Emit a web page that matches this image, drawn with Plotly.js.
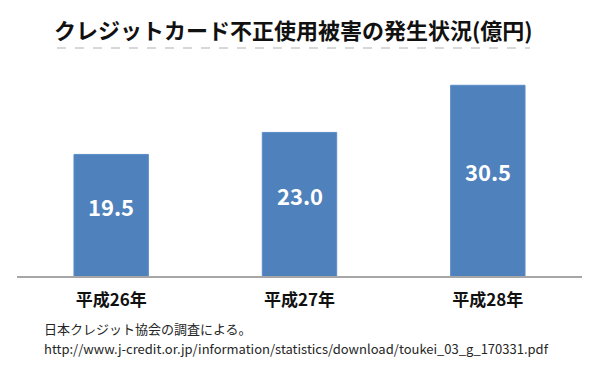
<!DOCTYPE html>
<html><head><meta charset="utf-8">
<script src="https://cdn.plot.ly/plotly-3.0.1.min.js"></script>
<style>body{margin:0;background:#fff}#c{width:600px;height:374px}</style>
</head><body><div id="c"></div>
<script>
const categories = ['平成26年', '平成27年', '平成28年'];
const values = [19.5, 23.0, 30.5];
const valueLabels = ['19.5', '23.0', '30.5'];
const titleText = 'クレジットカード不正使用被害の発生状況(億円)';
const noteLines = ['日本クレジット協会の調査による。', 'http://www.j-credit.or.jp/information/statistics/download/toukei_03_g_170331.pdf'];

const FONT = '"Noto Sans CJK JP", "Noto Sans", sans-serif';

const trace = {
  type: 'bar', x: categories, y: values, width: 0.395,
  marker: {color: '#4f81bd', line: {color: '#5b8dc9', width: 1}},
  hoverinfo: 'none'
};

const annotations = categories.map((c, i) => ({
  x: c, y: values[i] / 2, xref: 'x', yref: 'y', text: '<b>' + valueLabels[i] + '</b>',
  showarrow: false, yshift: 10, font: {family: FONT, size: 22, color: '#ffffff'}
}));
annotations.push({
  xref: 'paper', yref: 'paper', x: (293 - 17) / 565, y: 1 + (57 - 29) / 220, xanchor: 'center', yanchor: 'middle',
  text: '<b>' + titleText + '</b>', showarrow: false, font: {family: FONT, size: 22, color: '#111111'}
});
noteLines.forEach((t, i) => annotations.push({
  xref: 'paper', yref: 'paper', x: (42 - 17) / 565, y: -(328 + i * 20 - 277) / 220,
  xanchor: 'left', yanchor: 'middle', text: t, showarrow: false,
  font: {family: FONT, size: 13, color: '#262626'}
}));

const layout = {
  width: 600, height: 374,
  margin: {l: 17, r: 18, t: 57, b: 97},
  paper_bgcolor: '#ffffff', plot_bgcolor: '#ffffff',
  showlegend: false,
  xaxis: {
    type: 'category', range: [-0.5, 2.5], showgrid: false, zeroline: false,
    showline: false, ticks: '', ticklabelstandoff: 11,
    tickfont: {family: FONT, size: 17, color: '#111111', weight: 'bold'}
  },
  yaxis: {range: [0, 35], visible: false, fixedrange: true},
  shapes: [
    {type: 'line', xref: 'paper', yref: 'paper', x0: 0, x1: 1, y0: 0, y1: 0,
     line: {color: '#a6a6a6', width: 2}},
    {type: 'line', xref: 'paper', yref: 'paper', x0: (57 - 17) / 565, x1: (530 - 17) / 565,
     y0: 1 + (57 - 48) / 220, y1: 1 + (57 - 48) / 220,
     line: {color: '#b0b0b0', width: 1, dash: 'dash'}}
  ],
  annotations: annotations
};

Plotly.newPlot('c', [trace], layout, {displayModeBar: false, staticPlot: true});
</script></body></html>
